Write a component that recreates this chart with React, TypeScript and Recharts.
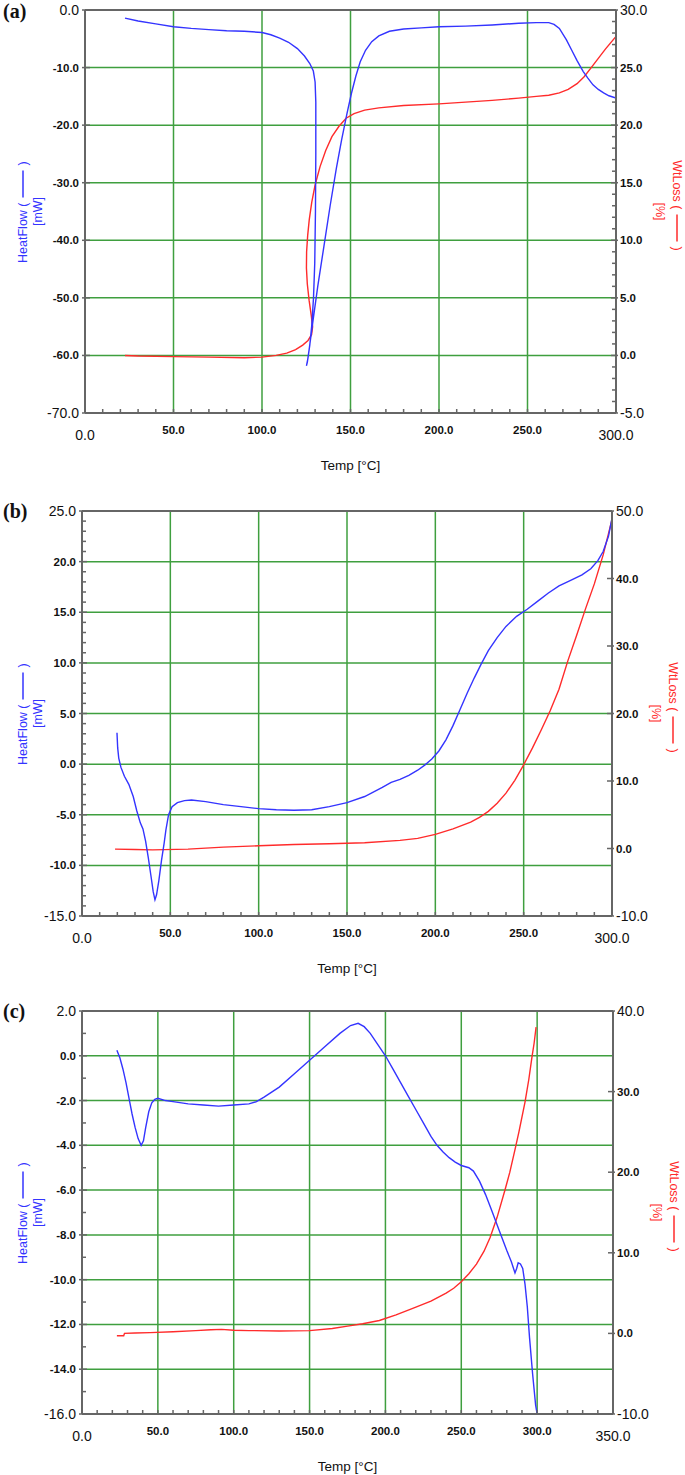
import React from "react";
import { Label, Line, LineChart, ReferenceLine, XAxis, YAxis } from "recharts";

const BLUE = "#3434ff";
const RED = "#ff2b2b";
const GRID = "#3f9f3f";
const AXIS = "#666666";
const FONT = "'Liberation Sans', Arial, Helvetica, sans-serif";

// (a) temperature [°C] vs heat flow [mW] / weight loss [%]
const heatFlowA: [number, number][] = [
  [22.6, -1.4], [30, -1.9], [40, -2.4], [50, -2.9], [60, -3.2], [70, -3.4], [80, -3.6], [90, -3.7],
  [100, -3.9], [105, -4.3], [110, -4.9], [115, -5.6], [120, -6.7], [124, -8.0], [127, -9.3], [129, -10.6],
  [130, -12.5], [130.4, -16], [130.4, -25], [130.2, -35], [129.8, -44], [129.1, -50], [128.1, -54.8],
  [127, -58.2], [125.9, -60.6], [125.1, -61.8], [125.6, -61.2], [126.8, -58.6], [128.8, -54], [131.5, -48],
  [135, -41], [138.5, -34], [142, -27.5], [145, -22.5], [148, -18], [150.5, -14.5], [153, -11.5],
  [155.5, -9], [158.5, -7], [162, -5.5], [166, -4.5], [172, -3.7], [180, -3.3], [190, -3.1], [200, -2.9],
  [215, -2.8], [230, -2.6], [245, -2.3], [255, -2.2], [262, -2.2], [265, -2.5], [268, -3.2], [272, -5.2],
  [275, -7.0], [278, -8.8], [281.5, -10.7], [284, -11.8], [287, -13.0], [290, -13.8], [293, -14.4],
  [296, -14.9], [300, -15.3],
];
const wtLossA: [number, number][] = [
  [22.6, 0.0], [30, -0.05], [50, -0.1], [70, -0.15], [90, -0.2], [100, -0.15], [108, 0.0], [114, 0.2],
  [119, 0.5], [123, 0.9], [126, 1.3], [128, 1.8], [128.6, 2.5], [127.8, 3.5], [126.6, 4.8], [125.6, 6.2],
  [125.1, 7.6], [125.2, 9.0], [125.8, 10.4], [126.7, 11.8], [128.1, 13.3], [130, 14.8], [132.8, 16.4],
  [136, 17.8], [139.5, 19.0], [143.5, 19.9], [147.5, 20.6], [152, 21.0], [158, 21.3], [166, 21.5],
  [180, 21.7], [200, 21.85], [215, 22.0], [230, 22.15], [245, 22.35], [255, 22.5], [262, 22.6],
  [268, 22.8], [273, 23.1], [278, 23.6], [282, 24.2], [286, 25.0], [290, 25.8], [294, 26.6], [300, 27.7],
];
const tempLabelsA = [0, 50, 100, 150, 200, 250, 300];
const heatLabelsA = [0, -10, -20, -30, -40, -50, -60, -70];
const lossLabelsA = [30, 25, 20, 15, 10, 5, 0, -5];

// (b)
const heatFlowB: [number, number][] = [
  [19.8, 3.1], [20.2, 1.6], [20.8, 0.6], [22, -0.3], [24, -1.2], [26.5, -2.0], [29, -3.2], [31, -4.6],
  [33, -5.8], [34.5, -6.4], [36, -7.6], [37.5, -9.2], [39, -11.0], [40.3, -12.6], [41.3, -13.4],
  [42.2, -12.9], [43.5, -11.5], [45, -9.5], [46.5, -7.8], [47.5, -6.5], [49, -5.0], [51, -4.2], [54, -3.8],
  [58, -3.6], [62, -3.55], [70, -3.7], [80, -4.0], [90, -4.2], [100, -4.4], [110, -4.5], [120, -4.55],
  [130, -4.5], [140, -4.2], [150, -3.8], [160, -3.2], [170, -2.3], [175, -1.8], [180, -1.5], [185, -1.1],
  [190, -0.6], [194, -0.1], [198, 0.5], [202, 1.3], [206, 2.4], [210, 3.8], [214, 5.4], [218, 7.0],
  [222, 8.5], [226, 9.9], [230, 11.2], [235, 12.5], [240, 13.6], [246, 14.6], [252, 15.3], [258, 16.1],
  [264, 16.9], [270, 17.6], [276, 18.1], [283, 18.7], [288, 19.3], [292, 20.1], [295, 21.0], [298, 22.5],
  [300, 24.3],
];
const wtLossB: [number, number][] = [
  [18.7, -0.1], [30, -0.15], [40, -0.2], [60, -0.1], [80, 0.2], [100, 0.4], [120, 0.6], [140, 0.7],
  [160, 0.85], [180, 1.2], [190, 1.5], [200, 2.1], [210, 2.9], [220, 3.9], [225, 4.6], [230, 5.5],
  [235, 6.7], [240, 8.2], [245, 10.1], [250, 12.4], [255, 14.9], [260, 17.6], [265, 20.4], [270, 23.6],
  [275, 27.8], [280, 31.6], [285, 35.5], [290, 39.2], [295, 43.5], [300, 48.7],
];
const tempLabelsB = [0, 50, 100, 150, 200, 250, 300];
const heatLabelsB = [25, 20, 15, 10, 5, 0, -5, -10, -15];
const lossLabelsB = [50, 40, 30, 20, 10, 0, -10];

// (c)
const heatFlowC: [number, number][] = [
  [23, 0.25], [25, -0.1], [27, -0.6], [29, -1.2], [31, -1.9], [33, -2.6], [35, -3.2], [37, -3.7],
  [39, -4.0], [40.5, -3.8], [42, -3.2], [44, -2.5], [46, -2.1], [48, -1.95], [50, -1.9], [55, -2.0],
  [60, -2.05], [70, -2.15], [80, -2.2], [90, -2.25], [100, -2.2], [110, -2.15], [115, -2.05], [120, -1.85],
  [130, -1.4], [140, -0.8], [150, -0.2], [160, 0.4], [170, 1.0], [177, 1.35], [182, 1.45], [186, 1.3],
  [190, 1.0], [195, 0.5], [200, 0.0], [205, -0.6], [210, -1.2], [215, -1.8], [220, -2.4], [225, -3.0],
  [230, -3.6], [234, -4.0], [238, -4.3], [242, -4.55], [246, -4.75], [250, -4.9], [255, -5.0], [258, -5.15],
  [262, -5.6], [266, -6.2], [270, -6.9], [275, -7.8], [280, -8.7], [283, -9.2], [285.4, -9.7], [286.5, -9.5],
  [287.5, -9.25], [289, -9.3], [290.5, -9.5], [292, -10.2], [293.5, -11.2], [295, -12.6], [297, -14.2],
  [299, -15.6], [300, -16.0],
];
const wtLossC: [number, number][] = [
  [23, -0.3], [27.5, -0.3], [28, 0.0], [35, 0.05], [45, 0.1], [60, 0.2], [75, 0.35], [85, 0.45], [92, 0.5],
  [100, 0.4], [110, 0.35], [130, 0.3], [150, 0.35], [165, 0.6], [175, 0.9], [185, 1.2], [196, 1.6],
  [207, 2.3], [218, 3.1], [230, 4.0], [235, 4.5], [240, 5.0], [245, 5.6], [250, 6.4], [255, 7.4],
  [260, 8.6], [265, 10.2], [269, 11.9], [273.6, 14.4], [278.8, 17.8], [282, 20.0], [285.4, 22.8],
  [288, 25.0], [292, 28.7], [294.5, 31.5], [296.6, 34.3], [298, 36.0], [299.3, 38.0],
];
const tempLabelsC = [0, 50, 100, 150, 200, 250, 300, 350];
const heatLabelsC = [2, 0, -2, -4, -6, -8, -10, -12, -14, -16];
const lossLabelsC = [40, 30, 20, 10, 0, -10];

type Pt = { t: number; v: number };
const toPts = (rows: [number, number][]): Pt[] => rows.map(([t, v]) => ({ t, v }));

// minor tick marks only, no labels
const steps = (lo: number, hi: number, step: number) => {
  const out: number[] = [];
  for (let v = lo; v <= hi + 1e-9; v += step) out.push(Math.round(v * 1000) / 1000);
  return out;
};

type AxisCfg = { labels: number[]; minor: number[] };
const lo = (a: number[]) => Math.min(...a);
const hi = (a: number[]) => Math.max(...a);
const has = (a: number[], v: number) => a.some((x) => Math.abs(x - v) < 1e-6);
const allTicks = (ax: AxisCfg) =>
  Array.from(new Set([...ax.labels, ...ax.minor])).sort((p, q) => p - q);

function xTick(ax: AxisCfg) {
  return (p: any) => {
    const v = p.payload.value;
    const lab = has(ax.labels, v);
    const big = v === lo(ax.labels) || v === hi(ax.labels);
    return (
      <g>
        <line x1={p.x} x2={p.x} y1={p.y} y2={p.y - 4} stroke={AXIS} strokeWidth={1.5} />
        {lab && (
          <text x={p.x} y={p.y + (big ? 22 : 17)} textAnchor="middle" dominantBaseline="central"
            fontFamily={FONT} fontSize={big ? 14 : 11.5} fontWeight={big ? 400 : 700} fill="#111">
            {v.toFixed(1)}
          </text>
        )}
      </g>
    );
  };
}

function leftTick(ax: AxisCfg) {
  return (p: any) => {
    const v = p.payload.value;
    const lab = has(ax.labels, v);
    const big = v === lo(ax.labels) || v === hi(ax.labels);
    return (
      <g>
        <line x1={p.x - (lab ? 3 : 0)} x2={p.x + (lab ? 5 : 4)} y1={p.y} y2={p.y} stroke={AXIS} strokeWidth={1.5} />
        {lab && (
          <text x={p.x - 6} y={p.y} textAnchor="end" dominantBaseline="central"
            fontFamily={FONT} fontSize={big ? 14 : 11.5} fontWeight={big ? 400 : 700} fill="#111">
            {v.toFixed(1)}
          </text>
        )}
      </g>
    );
  };
}

function rightTick(ax: AxisCfg) {
  return (p: any) => {
    const v = p.payload.value;
    const lab = has(ax.labels, v);
    const big = v === lo(ax.labels) || v === hi(ax.labels);
    return (
      <g>
        <line x1={p.x - (lab ? 5 : 4)} x2={p.x + (lab ? 2 : 0)} y1={p.y} y2={p.y} stroke={AXIS} strokeWidth={1.5} />
        {lab && (
          <text x={p.x + 4} y={p.y} textAnchor="start" dominantBaseline="central"
            fontFamily={FONT} fontSize={big ? 14 : 11.5} fontWeight={big ? 400 : 700} fill="#111">
            {v.toFixed(1)}
          </text>
        )}
      </g>
    );
  };
}

const HeatTitle = (props: any) => {
  const vb = props.viewBox;
  const cy = vb.y + vb.height / 2;
  return (
    <g fontFamily={FONT} fontSize={12.5} fill={BLUE}>
      <g transform={`translate(${vb.x + 23},${cy}) rotate(-90)`}>
        <text x={9} y={0} textAnchor="end" dominantBaseline="central">HeatFlow (</text>
        <line x1={14} x2={41} y1={0} y2={0} stroke={BLUE} strokeWidth={1.5} />
        <text x={46} y={0} textAnchor="start" dominantBaseline="central">)</text>
      </g>
      <text transform={`translate(${vb.x + 38},${cy}) rotate(-90)`} textAnchor="middle" dominantBaseline="central">
        [mW]
      </text>
    </g>
  );
};

const LossTitle = (props: any) => {
  const vb = props.viewBox;
  const cy = vb.y + vb.height / 2;
  return (
    <g fontFamily={FONT} fontSize={12.5} fill={RED}>
      <g transform={`translate(${vb.x + 61},${cy}) rotate(90)`}>
        <text x={-2} y={0} textAnchor="end" dominantBaseline="central">WtLoss (</text>
        <line x1={3} x2={30} y1={0} y2={0} stroke={RED} strokeWidth={1.5} />
        <text x={35} y={0} textAnchor="start" dominantBaseline="central">)</text>
      </g>
      <text transform={`translate(${vb.x + 44},${cy}) rotate(90)`} textAnchor="middle" dominantBaseline="central">
        [%]
      </text>
    </g>
  );
};

const TempTitle = (props: any) => {
  const vb = props.viewBox;
  return (
    <text x={vb.x + vb.width / 2} y={vb.y + 52} textAnchor="middle" dominantBaseline="central"
      fontFamily={FONT} fontSize={13.5} fill="#111">
      Temp [°C]
    </text>
  );
};

type PanelProps = {
  tag: string;
  top: number;
  height: number;
  marginTop: number;
  leftW: number;
  rightW: number;
  xAxisH: number;
  x: AxisCfg;
  yl: AxisCfg;
  yr: AxisCfg;
  heat: [number, number][];
  loss: [number, number][];
};

function Panel(p: PanelProps) {
  const xDom: [number, number] = [lo(p.x.labels), hi(p.x.labels)];
  const lDom: [number, number] = [lo(p.yl.labels), hi(p.yl.labels)];
  const rDom: [number, number] = [lo(p.yr.labels), hi(p.yr.labels)];
  const vGrid = p.x.labels.filter((v) => v !== xDom[0] && v !== xDom[1]);
  const hGrid = p.yl.labels.filter((v) => v !== lDom[0] && v !== lDom[1]);
  return (
    <div style={{ position: "absolute", left: 0, top: p.top, width: 685, height: p.height }}>
      <div style={{ position: "absolute", left: 3, top: 1, fontFamily: "'Liberation Serif', 'Times New Roman', serif",
        fontWeight: 700, fontSize: 20, lineHeight: "20px", color: "#111" }}>
        {p.tag}
      </div>
      <LineChart width={685} height={p.height} margin={{ top: p.marginTop, right: 0, bottom: 0, left: 0 }}>
        <XAxis type="number" dataKey="t" domain={xDom} allowDataOverflow ticks={allTicks(p.x)} interval={0}
          tick={xTick(p.x)} tickLine={false} tickSize={0} tickMargin={0} height={p.xAxisH}
          axisLine={{ stroke: AXIS, strokeWidth: 2 }}>
          <Label content={TempTitle} />
        </XAxis>
        <YAxis yAxisId="left" type="number" domain={lDom} allowDataOverflow ticks={allTicks(p.yl)} interval={0}
          tick={leftTick(p.yl)} tickLine={false} tickSize={0} tickMargin={0} width={p.leftW}
          axisLine={{ stroke: AXIS, strokeWidth: 2 }}>
          <Label content={HeatTitle} />
        </YAxis>
        <YAxis yAxisId="right" orientation="right" type="number" domain={rDom} allowDataOverflow
          ticks={allTicks(p.yr)} interval={0} tick={rightTick(p.yr)} tickLine={false} tickSize={0} tickMargin={0}
          width={p.rightW} axisLine={{ stroke: AXIS, strokeWidth: 2 }}>
          <Label content={LossTitle} />
        </YAxis>
        {vGrid.map((v) => (
          <ReferenceLine key={`v${v}`} x={v} yAxisId="left" stroke={GRID} strokeWidth={1.5} />
        ))}
        {hGrid.map((v) => (
          <ReferenceLine key={`h${v}`} y={v} yAxisId="left" stroke={GRID} strokeWidth={1.5} />
        ))}
        <ReferenceLine y={lDom[1]} yAxisId="left" stroke={AXIS} strokeWidth={2} />
        <Line data={toPts(p.loss)} dataKey="v" yAxisId="right" type="linear" stroke={RED} strokeWidth={1.4}
          dot={false} activeDot={false} isAnimationActive={false} />
        <Line data={toPts(p.heat)} dataKey="v" yAxisId="left" type="linear" stroke={BLUE} strokeWidth={1.4}
          dot={false} activeDot={false} isAnimationActive={false} />
      </LineChart>
    </div>
  );
}

export default function App() {
  return (
    <div style={{ position: "absolute", left: 0, top: 0, width: 685, height: 1475, background: "#fff" }}>
      <Panel tag="(a)" top={0} height={480} marginTop={10} leftW={85} rightW={69} xAxisH={67}
        x={{ labels: tempLabelsA, minor: steps(0, 300, 10) }}
        yl={{ labels: heatLabelsA, minor: [] }}
        yr={{ labels: lossLabelsA, minor: steps(-5, 30, 1) }}
        heat={heatFlowA} loss={wtLossA} />
      <Panel tag="(b)" top={500} height={480} marginTop={11} leftW={82} rightW={73} xAxisH={64}
        x={{ labels: tempLabelsB, minor: steps(0, 300, 10) }}
        yl={{ labels: heatLabelsB, minor: steps(-15, 25, 1) }}
        yr={{ labels: lossLabelsB, minor: [] }}
        heat={heatFlowB} loss={wtLossB} />
      <Panel tag="(c)" top={1000} height={475} marginTop={11} leftW={82} rightW={72} xAxisH={61}
        x={{ labels: tempLabelsC, minor: steps(0, 350, 10) }}
        yl={{ labels: heatLabelsC, minor: steps(-16, 2, 1) }}
        yr={{ labels: lossLabelsC, minor: [] }}
        heat={heatFlowC} loss={wtLossC} />
    </div>
  );
}
